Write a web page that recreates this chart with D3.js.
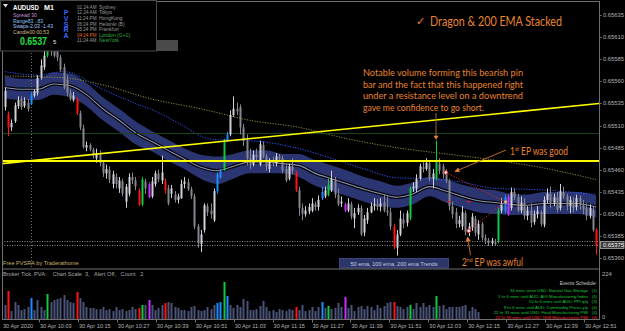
<!DOCTYPE html>
<html>
<head>
<meta charset="utf-8">
<script src="https://cdn.jsdelivr.net/npm/d3@7"></script>
<style>
  html, body { margin: 0; padding: 0; background: #000; }
  svg { display: block; }
</style>
</head>
<body>
<div id="container"></div>
<script>
// AUDUSD M1 - 30 Apr 2020, prices in points (1 point = 0.00001)

var opens = [65531,65523,65508,65515,65532,65540,65532,65536,65534,65544,65547,65564,65576,65589,65600,65596,65594,65587,65576,65562,
65547,65539,65540,65524,65507,65485,65488,65483,65473,65477,65468,65456,65460,65444,65452,65439,65447,65424,65433,65452,
65448,65436,65421,65447,65444,65430,65444,65456,65448,65447,65439,65433,65432,65426,65428,65444,65446,65438,65430,65396,
65376,65392,65419,65414,65403,65436,65451,65460,65493,65500,65522,65529,65531,65508,65493,65473,65466,65477,65466,65488,
65475,65461,65469,65467,65475,65473,65461,65450,65464,65457,65437,65417,65410,65413,65414,65421,65418,65428,65430,65432,
65437,65449,65432,65422,65421,65414,65421,65405,65412,65417,65389,65403,65412,65419,65421,65418,65423,65414,65412,65396,
65372,65387,65404,65400,65405,65439,65439,65450,65463,65461,65467,65450,65450,65467,65464,65455,65448,65419,65412,65399,
65396,65411,65390,65395,65405,65387,65399,65383,65380,65377,65378,65380,65414,65413,65429,65417,65435,65429,65414,65423,
65408,65414,65401,65410,65412,65398,65426,65433,65422,65429,65417,65435,65430,65419,65424,65418,65428,65420,65417,65408,
65414,65392];
var highs = [65553,65526,65517,65536,65543,65543,65542,65540,65548,65551,65567,65585,65596,65607,65605,65600,65598,65590,65580,65567,
65551,65548,65542,65527,65511,65492,65490,65485,65484,65482,65471,65466,65464,65459,65456,65452,65450,65444,65456,65457,
65452,65439,65452,65450,65446,65452,65459,65460,65476,65450,65443,65443,65436,65433,65449,65452,65450,65441,65433,65399,
65392,65422,65422,65422,65439,65457,65461,65495,65503,65527,65543,65536,65534,65512,65500,65484,65482,65484,65493,65492,
65478,65473,65475,65479,65478,65476,65466,65467,65473,65459,65441,65422,65419,65422,65428,65424,65431,65441,65441,65450,
65459,65452,65439,65430,65423,65428,65424,65417,65421,65420,65409,65417,65423,65428,65427,65428,65432,65430,65417,65399,
65392,65414,65411,65414,65441,65446,65455,65467,65470,65473,65470,65461,65493,65473,65467,65461,65450,65424,65417,65408,
65419,65414,65400,65411,65408,65403,65401,65387,65383,65383,65382,65417,65428,65432,65432,65440,65439,65433,65430,65428,
65419,65422,65414,65419,65414,65430,65439,65441,65433,65435,65444,65441,65433,65430,65429,65432,65431,65426,65422,65421,
65419,65394];
var lows = [65527,65498,65504,65513,65529,65528,65530,65526,65533,65542,65544,65562,65573,65587,65589,65587,65583,65571,65551,65543,
65538,65537,65522,65505,65484,65481,65481,65473,65468,65464,65452,65450,65445,65439,65439,65434,65430,65417,65430,65444,
65437,65419,65419,65433,65428,65428,65441,65446,65444,65433,65420,65428,65423,65422,65427,65439,65436,65427,65393,65372,
65367,65389,65408,65405,65401,65433,65450,65459,65492,65498,65520,65522,65500,65487,65465,65461,65464,65470,65464,65473,
65459,65457,65464,65464,65469,65456,65446,65448,65455,65435,65408,65403,65407,65410,65412,65414,65414,65426,65428,65430,
65435,65428,65419,65418,65412,65412,65404,65394,65409,65385,65385,65399,65411,65414,65414,65413,65412,65408,65392,65370,
65363,65385,65394,65396,65403,65435,65435,65448,65457,65459,65447,65439,65448,65455,65450,65445,65414,65405,65394,65395,
65392,65386,65385,65391,65385,65381,65380,65376,65374,65374,65374,65377,65411,65411,65408,65414,65426,65412,65411,65404,
65403,65395,65398,65405,65396,65395,65422,65417,65419,65412,65414,65427,65414,65411,65412,65414,65415,65410,65403,65405,
65390,65364];
var closes = [65549,65508,65513,65533,65539,65531,65538,65529,65545,65549,65564,65578,65589,65603,65594,65589,65587,65573,65553,65547,
65540,65544,65524,65508,65486,65488,65483,65476,65479,65468,65456,65461,65449,65455,65444,65448,65433,65441,65452,65448,
65441,65421,65449,65439,65429,65447,65456,65449,65457,65437,65422,65439,65426,65430,65444,65447,65438,65430,65396,65377,
65387,65420,65412,65410,65436,65455,65459,65493,65500,65522,65529,65526,65508,65493,65473,65466,65477,65474,65489,65475,
65464,65469,65467,65475,65473,65459,65448,65464,65459,65437,65417,65410,65414,65418,65422,65418,65426,65435,65437,65443,
65450,65432,65421,65424,65414,65422,65407,65411,65417,65387,65405,65412,65419,65421,65418,65422,65414,65412,65396,65373,
65387,65405,65399,65411,65439,65441,65450,65464,65461,65468,65450,65456,65469,65459,65455,65448,65419,65410,65399,65403,
65412,65390,65396,65407,65389,65399,65383,65380,65377,65380,65376,65414,65421,65429,65410,65435,65429,65414,65423,65408,
65414,65400,65410,65413,65399,65426,65433,65422,65429,65415,65436,65430,65419,65426,65417,65428,65420,65415,65408,65417,
65392,65375];

// PVSRA tick volume (only the visible part of the sub window)
var volumes = [74,145,43,89,74,48,53,64,109,48,99,64,48,130,89,99,104,109,125,99,
89,84,140,109,89,64,59,59,53,53,64,48,53,43,64,48,53,43,48,64,
53,59,74,74,99,74,48,59,74,84,89,84,64,59,48,48,43,64,69,48,
43,48,64,53,74,84,89,191,120,74,59,74,64,104,94,48,48,53,69,94,
64,43,48,38,53,48,43,53,48,64,48,74,43,48,64,43,64,89,59,69,
53,59,84,64,115,59,74,43,64,69,53,69,64,48,74,59,69,84,89,89,
69,64,53,64,74,53,84,64,84,64,74,64,120,69,74,53,64,64,64,64,
69,74,43,64,53,38];

// PVSRA candle classes (bar indices)
var climaxBear = [1, 22, 41, 49, 89, 119, 181];
var climaxBull = [13, 42, 67, 99, 124, 132, 151];
var risingBull = [8, 65, 66, 68, 97, 153];
var risingBear = [44, 104, 154];

// Dragon band (EMA of highs / lows / closes), read at these bars
var bandBars = [0,5,10,15,20,25,30,35,40,45,50,55,60,65,70,75,80,85,90,95,100,105,110,115,120,125,130,135,140,145,150,155,160,165,170,175,181];
var bandTop = [65566,65563,65563,65570,65569,65558,65542,65529,65515,65504,65494,65484,65477,65475,65478,65482,65482,65478,65478,65471,65465,65459,65452,65447,65442,65446,65452,65449,65443,65439,65437,65433,65432,65435,65435,65435,65431];
var bandBottom = [65541,65539,65539,65545,65542,65532,65516,65503,65489,65481,65470,65461,65450,65444,65450,65456,65456,65456,65452,65442,65436,65430,65424,65419,65417,65421,65430,65423,65417,65412,65410,65409,65409,65410,65410,65410,65406];
var bandMid = [65553,65551,65551,65557,65555,65545,65529,65516,65502,65492,65482,65472,65463,65459,65464,65469,65469,65467,65465,65456,65450,65444,65438,65433,65429,65433,65441,65436,65430,65425,65423,65421,65420,65422,65422,65422,65418];

var emaBlueBars = [0,10,18,30,40,45,55,60,65,75,90,100,110,120,130,140,150,160,170,181];
var emaBlue = [65571,65567,65571,65551,65535,65528,65509,65498,65494,65493,65484,65473,65461,65451,65450,65446,65439,65438,65436,65432];
var emaOliveBars = [0,18,30,45,60,75,90,105,120,135,150,165,181];
var emaOlive = [65566,65564,65556,65540,65529,65516,65508,65495,65485,65478,65471,65462,65449];

// drawn objects
var resistance = 65470;
var trendBars = [-1, 182];
var trendPrices = [65467, 65535];
var greenLevel = 65501;
var askPrice = 65380;
var bidPrice = 65375;

var timeTicks = ["10:03","10:15","10:27","10:39","10:51","11:03","11:15","11:27","11:39","11:51","12:03","12:15","12:27","12:39","12:51"];

var clocks = [["01:24 AM","Sydney"],["12:24 AM","Tokyo"],["11:24 PM","HongKong"],["06:24 PM","Helsinki (B)"],["05:24 PM","Frankfurt"],["04:24 PM","London (G+1)"],["11:24 AM","NewYork"]];

var events = [
    ["34 mins since USD: Natural Gas Storage", "(1)"],
    ["1 hr 6 mins until AUD: AIG Manufacturing Index", "(4)"],
    ["10 hr 6 mins until AUD: PPI q/q", "(3)"],
    ["8 hr 6 mins until AUD: Commodity Prices y/y", "(4)"],
    ["22 hr 31 mins until USD: Final Manufacturing PMI", "(4)"],
    ["22 hr 36 mins until USD: ISM Manufacturing PMI", "(4)"]
];

var svg = d3.select("div#container")
    .append("svg")
    .attr("width", 625)
    .attr("height", 331)
    .style("background", "#000");

var frame = { left: 2, right: 599, top: 2, mainBottom: 268.5, volBottom: 319.5 };

var x = d3.scaleLinear().domain([0, opens.length - 1]).range([4.8, 596.1]);
var y = d3.scaleLinear().domain([65360, 65635]).range([258.3, 15]);
var yv = d3.scaleLinear().domain([0, 224]).range([319.5, 275.5]);
var tParse = d3.timeParse("%H:%M");
var xt = d3.scaleTime().domain([tParse("10:03"), tParse("12:51")]).range([40, 585]);

svg.append("defs").append("clipPath").attr("id", "mainClip")
    .append("rect")
    .attr("x", frame.left).attr("y", frame.top)
    .attr("width", frame.right - frame.left).attr("height", frame.mainBottom - frame.top);

var main = svg.append("g").attr("clip-path", "url(#mainClip)");

// dragon band
var bandData = bandBars.map(function (b, i) { return { b: b, t: bandTop[i], l: bandBottom[i], m: bandMid[i] }; });
main.append("path")
    .datum(bandData)
    .attr("fill", "#2b3571")
    .attr("d", d3.area().curve(d3.curveMonotoneX)
        .x(function (d) { return x(d.b); })
        .y0(function (d) { return y(d.l); })
        .y1(function (d) { return y(d.t); }));

var midLine = d3.line().curve(d3.curveMonotoneX)
    .x(function (d) { return x(d.b); })
    .y(function (d) { return y(d.m); });
main.append("path").datum(bandData).attr("fill", "none").attr("stroke", "#05060c").attr("stroke-width", 3.6).attr("d", midLine);
main.append("path").datum(bandData).attr("fill", "none").attr("stroke", "#8a90ac").attr("stroke-width", 1.1).attr("d", midLine);

// moving averages
function emaPath(bars, vals, color) {
    main.append("path")
        .datum(bars.map(function (b, i) { return [b, vals[i]]; }))
        .attr("fill", "none")
        .attr("stroke", color)
        .attr("stroke-width", 1)
        .attr("stroke-dasharray", "1.2,1.4")
        .attr("d", d3.line().curve(d3.curveMonotoneX)
            .x(function (d) { return x(d[0]); })
            .y(function (d) { return y(d[1]); }));
}
emaPath(emaOliveBars, emaOlive, "#8c8a40");
emaPath(emaBlueBars, emaBlue, "#2f55ff");

// horizontal helper lines
main.append("line")
    .attr("x1", frame.left).attr("x2", frame.right)
    .attr("y1", y(greenLevel)).attr("y2", y(greenLevel))
    .attr("stroke", "#1c4420").attr("stroke-width", 1);

// period separator
main.append("line")
    .attr("x1", Math.round(x(8)) + 0.5).attr("x2", Math.round(x(8)) + 0.5)
    .attr("y1", frame.top).attr("y2", frame.mainBottom)
    .attr("stroke", "#707070").attr("stroke-dasharray", "1,2");

[askPrice, bidPrice].forEach(function (p) {
    main.append("line")
        .attr("x1", frame.left).attr("x2", frame.right)
        .attr("y1", Math.round(y(p)) + 0.5).attr("y2", Math.round(y(p)) + 0.5)
        .attr("stroke", "#8a8a8a").attr("stroke-dasharray", "1,1.5");
});

// candles
function candleColor(i) {
    if (climaxBear.indexOf(i) >= 0) return "#ff1414";
    if (climaxBull.indexOf(i) >= 0) return "#12c83e";
    if (risingBull.indexOf(i) >= 0) return "#1e8cff";
    if (risingBear.indexOf(i) >= 0) return "#c832ff";
    return closes[i] >= opens[i] ? "#cfd0d8" : "#85868e";
}

var candles = main.selectAll("g.candle")
    .data(opens.map(function (o, i) { return i; }))
    .enter().append("g").attr("class", "candle");

candles.append("rect")
    .attr("x", function (i) { return Math.round(x(i)); })
    .attr("y", function (i) { return y(highs[i]); })
    .attr("width", 1)
    .attr("height", function (i) { return Math.max(1, y(lows[i]) - y(highs[i])); })
    .attr("fill", candleColor);

candles.append("rect")
    .attr("x", function (i) { return Math.round(x(i)) - 0.5; })
    .attr("y", function (i) { return y(Math.max(opens[i], closes[i])); })
    .attr("width", 2)
    .attr("height", function (i) { return Math.max(1, Math.abs(y(opens[i]) - y(closes[i]))); })
    .attr("fill", candleColor);

// yellow lines
main.append("line")
    .attr("x1", frame.left).attr("x2", frame.right)
    .attr("y1", y(resistance)).attr("y2", y(resistance))
    .attr("stroke", "#ffff00").attr("stroke-width", 2);
main.append("line")
    .attr("x1", x(trendBars[0])).attr("x2", x(trendBars[1]))
    .attr("y1", y(trendPrices[0])).attr("y2", y(trendPrices[1]))
    .attr("stroke", "#ffff00").attr("stroke-width", 1.6);

// trades
var exitPt = [153, 65424];
var entries = [[135, 65457], [142, 65391]];
entries.forEach(function (e) {
    main.append("line")
        .attr("x1", x(e[0])).attr("y1", y(e[1]))
        .attr("x2", x(exitPt[0])).attr("y2", y(exitPt[1]))
        .attr("stroke", "#d82020").attr("stroke-dasharray", "1.2,1.6");
});
[136, 142].forEach(function (b) {
    main.append("line")
        .attr("x1", x(b) - 2).attr("x2", x(b) + 2)
        .attr("y1", y(exitPt[1])).attr("y2", y(exitPt[1]))
        .attr("stroke", "#e02020").attr("stroke-width", 1.2);
});
entries.forEach(function (e) {
    main.append("circle").attr("cx", x(e[0])).attr("cy", y(e[1])).attr("r", 1.8)
        .attr("fill", "#ffffff").attr("stroke", "#e02828").attr("stroke-width", 1);
});
main.append("circle").attr("cx", x(exitPt[0]) + 1).attr("cy", y(exitPt[1])).attr("r", 1.5)
    .attr("fill", "#f0c060");

// annotations
var orange = "#e8842c";
var defs = svg.select("defs");
defs.append("marker").attr("id", "arrowHead")
    .attr("viewBox", "0 0 10 10").attr("refX", 9).attr("refY", 5)
    .attr("markerWidth", 5).attr("markerHeight", 5).attr("orient", "auto")
    .append("path").attr("d", "M0,0 L10,5 L0,10 z").attr("fill", orange);

svg.append("text")
    .attr("x", 416).attr("y", 25)
    .style("font-family", "DejaVu Sans").style("font-size", "11px")
    .attr("fill", orange).text("✓");
svg.append("text")
    .attr("x", 430).attr("y", 25.5)
    .attr("textLength", 132).attr("lengthAdjust", "spacingAndGlyphs")
    .style("font-family", "Lato").style("font-size", "12.5px")
    .attr("fill", orange).text("Dragon & 200 EMA Stacked");

var noteLines = ["Notable volume forming this bearish pin", "bar and the fact that this happened right",
    "under a resistance level on a downtrend", "gave me confidence to go short."];
var noteWidths = [160, 160, 160, 121];
noteLines.forEach(function (t, i) {
    svg.append("text")
        .attr("x", 363).attr("y", 76 + i * 11.6)
        .attr("textLength", noteWidths[i]).attr("lengthAdjust", "spacingAndGlyphs")
        .style("font-family", "Lato").style("font-size", "10px")
        .attr("fill", orange).text(t);
});

// pin bar arrow
svg.append("line")
    .attr("x1", x(132)).attr("x2", x(132))
    .attr("y1", 113).attr("y2", y(highs[132]) - 4)
    .attr("stroke", "#9c6038").attr("stroke-width", 1);
svg.append("path")
    .attr("d", "M" + (x(132) - 2.5) + "," + (y(highs[132]) - 5) + " l5,0 l-2.5,4 z")
    .attr("fill", orange);

function epLabel(px, py, num, sup, rest, len) {
    var t = svg.append("text").attr("x", px).attr("y", py)
        .attr("textLength", len).attr("lengthAdjust", "spacingAndGlyphs")
        .style("font-family", "Lato").style("font-size", "11px").attr("fill", orange);
    t.append("tspan").text(num);
    t.append("tspan").attr("dy", -4).style("font-size", "6.5px").text(sup);
    t.append("tspan").attr("dy", 4).text(rest);
}
epLabel(510, 154.5, "1", "st", " EP was good", 58);
epLabel(462, 266, "2", "nd", " EP was awful", 61);

svg.append("line")
    .attr("x1", 506).attr("y1", 150).attr("x2", 455).attr("y2", 171.5)
    .attr("stroke", "#b8682a").attr("stroke-width", 1)
    .attr("marker-end", "url(#arrowHead)");
svg.append("line")
    .attr("x1", 470.5).attr("y1", 255).attr("x2", 467.5).attr("y2", 237)
    .attr("stroke", "#b8682a").attr("stroke-width", 1)
    .attr("marker-end", "url(#arrowHead)");

// ema trends box
svg.append("rect")
    .attr("x", 339.5).attr("y", 258.5).attr("width", 109).attr("height", 9.5)
    .attr("fill", "#2c3668").attr("stroke", "#46508a").attr("stroke-width", 0.8);
svg.append("text")
    .attr("x", 394).attr("y", 265.6).attr("text-anchor", "middle")
    .style("font-family", "Liberation Sans").style("font-size", "5.6px")
    .attr("fill", "#c8cce4").text("50 ema,  100 ema,  200 ema  Trends");

svg.append("text")
    .attr("x", 3).attr("y", 265.2)
    .style("font-family", "Liberation Sans").style("font-size", "5.6px")
    .attr("fill", "#c8b468").text("Free  PVSRA  by  Traderathome");

// volume pane
svg.selectAll("rect.vol")
    .data(volumes)
    .enter().append("rect")
    .attr("class", "vol")
    .attr("x", function (d, i) { return Math.round(x(i)) - 0.5; })
    .attr("y", function (d) { return yv(d); })
    .attr("width", 2)
    .attr("height", function (d) { return yv(0) - yv(d); })
    .attr("fill", function (d, i) {
        var c = candleColor(i);
        return (c === "#cfd0d8" || c === "#85868e") ? "#4b5378" : c;
    });

svg.append("text")
    .attr("x", 3).attr("y", 275.6)
    .style("font-family", "Liberation Sans").style("font-size", "5.6px")
    .attr("fill", "#a8a8a8").attr("xml:space", "preserve")
    .text("Broker Tick  PVA:    Chart Scale  3,   Alert Off,   Count   2");

svg.append("text")
    .attr("x", 597).attr("y", 285.2).attr("text-anchor", "end")
    .style("font-family", "Liberation Sans").style("font-size", "4.8px")
    .attr("fill", "#c8c8c8").text("Events Schedule:");
events.forEach(function (e, i) {
    var col = i === events.length - 1 ? "#ff2a2a" : "#1ec83c";
    svg.append("text")
        .attr("x", 588).attr("y", 292.4 + i * 5.4).attr("text-anchor", "end")
        .style("font-family", "Liberation Sans").style("font-size", "4.3px")
        .attr("fill", col).text(e[0]);
    svg.append("text")
        .attr("x", 597).attr("y", 292.4 + i * 5.4).attr("text-anchor", "end")
        .style("font-family", "Liberation Sans").style("font-size", "4.3px")
        .attr("fill", col).text(e[1]);
});

// frames
var frameColor = "#707070";
svg.append("rect")
    .attr("x", frame.left + 0.5).attr("y", frame.top - 0.5)
    .attr("width", frame.right - frame.left).attr("height", frame.volBottom - frame.top + 0.5)
    .attr("fill", "none").attr("stroke", frameColor);
svg.append("line")
    .attr("x1", frame.left).attr("x2", frame.right + 0.5)
    .attr("y1", frame.mainBottom + 0.5).attr("y2", frame.mainBottom + 0.5)
    .attr("stroke", frameColor);

// price axis
var priceTicks = d3.range(65360, 65636, 25);
priceTicks.forEach(function (p) {
    svg.append("line")
        .attr("x1", frame.right + 0.5).attr("x2", frame.right + 2.5)
        .attr("y1", Math.round(y(p)) + 0.5).attr("y2", Math.round(y(p)) + 0.5)
        .attr("stroke", frameColor);
    svg.append("text")
        .attr("x", 603).attr("y", y(p) + 2)
        .style("font-family", "Liberation Sans").style("font-size", "5.8px")
        .attr("fill", "#b4b4b4").text((p / 1e5).toFixed(5));
});

svg.append("rect")
    .attr("x", 600.5).attr("y", y(bidPrice) - 3.5).attr("width", 23.5).attr("height", 7)
    .attr("fill", "#3c3c3c").attr("stroke", "#c0c0c0").attr("stroke-width", 0.7);
svg.append("text")
    .attr("x", 603).attr("y", y(bidPrice) + 2)
    .style("font-family", "Liberation Sans").style("font-size", "5.8px")
    .attr("fill", "#f0f0f0").text((bidPrice / 1e5).toFixed(5));

[[224, "224"], [0, "0"]].forEach(function (v) {
    svg.append("text")
        .attr("x", 602).attr("y", yv(v[0]) + (v[0] ? 0 : -0.5))
        .style("font-family", "Liberation Sans").style("font-size", "5.8px")
        .attr("fill", "#b4b4b4").text(v[1]);
});

// time axis
svg.append("text")
    .attr("x", 3).attr("y", 328)
    .style("font-family", "Liberation Sans").style("font-size", "5.6px")
    .attr("fill", "#b4b4b4").text("30 Apr 2020");
timeTicks.forEach(function (t) {
    var px = xt(tParse(t));
    svg.append("line")
        .attr("x1", Math.round(px) - 0.5).attr("x2", Math.round(px) - 0.5)
        .attr("y1", frame.volBottom).attr("y2", frame.volBottom + 3)
        .attr("stroke", frameColor);
    svg.append("text")
        .attr("x", px).attr("y", 328)
        .style("font-family", "Liberation Sans").style("font-size", "5.6px")
        .attr("fill", "#b4b4b4").text("30 Apr " + t);
});

// info panel
var info = svg.append("g");
info.append("rect")
    .attr("x", 0.5).attr("y", 0.5).attr("width", 156).attr("height", 50.5)
    .attr("fill", "#000").attr("stroke", "#4a4a4a");
info.append("rect")
    .attr("x", 157).attr("y", 40).attr("width", 21).attr("height", 11)
    .attr("fill", "#4a4a4a");
info.append("path").attr("d", "M3,4 L8,4 L5.5,7.5 z").attr("fill", "#e0e0e0");

function infoText(tx, ty, size, color, txt, weight, len) {
    var t = info.append("text").attr("x", tx).attr("y", ty)
        .style("font-family", "Liberation Sans").style("font-size", size + "px")
        .style("font-weight", weight || "normal")
        .attr("fill", color).text(txt);
    if (len) t.attr("textLength", len).attr("lengthAdjust", "spacingAndGlyphs");
}
infoText(13, 10, 7.6, "#ffffff", "AUDUSD", "bold", 26);
infoText(44, 10, 7.6, "#ffffff", "M1", "bold", 10);
infoText(13, 17.2, 5.4, "#c890d8", "Spread 30", null, 24);
infoText(13, 22.6, 5.4, "#88c4f0", "Range83  ..83", null, 30);
infoText(13, 28.2, 5.4, "#a8c8ff", "Swaps-2.03 -1.43", null, 40);
infoText(13, 33.6, 5.4, "#ccbb88", "Candle00:00:53", null, 36);
infoText(20, 44.5, 10, "#22e040", "0.6537", "bold", 27);
infoText(53, 43.5, 6, "#e0e0e0", "5");

info.append("text")
    .attr("x", 66).attr("y", 9)
    .style("writing-mode", "vertical-rl")
    .style("text-orientation", "upright")
    .style("font-family", "Liberation Sans").style("font-size", "7px")
    .style("font-weight", "bold")
    .style("letter-spacing", "-1.2px")
    .attr("fill", "#3a66ff").text("PVSRA");

clocks.forEach(function (c, i) {
    var ty = 8.7 + i * 5.6;
    var timeCol = c[1].indexOf("London") === 0 ? "#e06a24" : "#9a9a9a";
    var cityCol = (c[1].indexOf("London") === 0 || c[1] === "NewYork") ? "#36b040" : "#9a9a9a";
    infoText(77, ty, 5, timeCol, c[0], null, 19.5);
    infoText(99, ty, 5, cityCol, c[1]);
});
</script>
</body>
</html>
